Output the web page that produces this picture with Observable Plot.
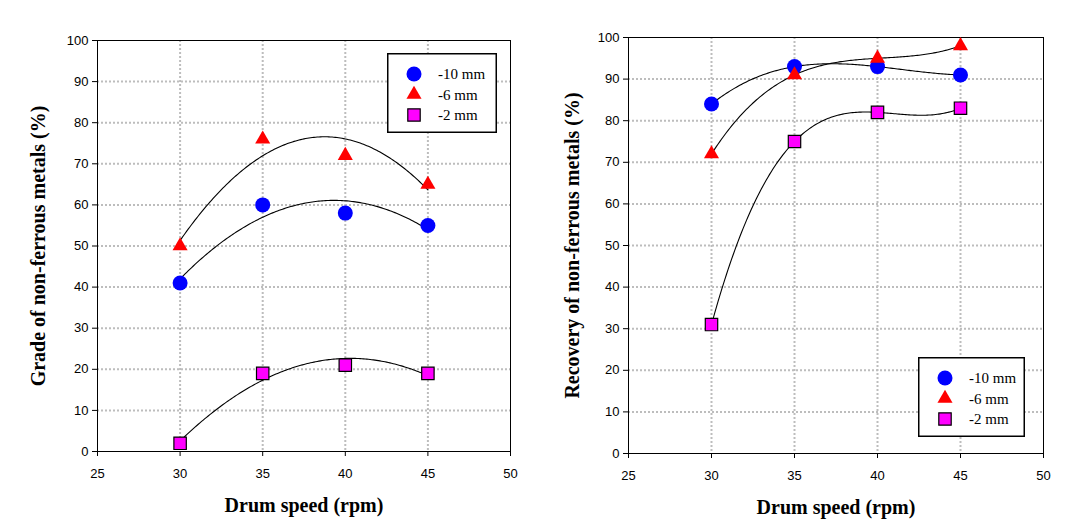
<!DOCTYPE html>
<html>
<head>
<meta charset="utf-8">
<script src="https://cdn.jsdelivr.net/npm/d3@7"></script>
<script src="https://cdn.jsdelivr.net/npm/@observablehq/plot@0.6"></script>
<style>
  html, body { margin: 0; padding: 0; background: white; }
  #wrap { position: relative; width: 1082px; height: 527px; display: flex; }
  .panel { position: relative; width: 541px; height: 527px; }
  .panel svg { display: block; }
  g[aria-label="x-axis label"], g[aria-label="y-axis label"],
  g[aria-label="x-axis label"] text, g[aria-label="y-axis label"] text {
    font-family: "Liberation Serif", "Times New Roman", serif !important;
    font-weight: bold !important;
    font-size: 20px !important;
  }
  .legend { position: absolute; }
</style>
</head>
<body>
<div id="wrap"></div>
<script>
// ---- data ----
const speeds = [30, 35, 40, 45];
const seriesNames = ["-10 mm", "-6 mm", "-2 mm"];
const seriesColors = ["#0000ff", "#ff0000", "#ff00ff"];
const seriesSymbols = ["circle", "triangle", "square"];
const gradeM10 = [41, 60, 58, 55];
const gradeM6 = [50, 76, 72, 65];
const gradeM2 = [2, 19, 21, 19];
const recoveryM10 = [84, 93, 93, 91];
const recoveryM6 = [72, 91, 95, 98];
const recoveryM2 = [31, 75, 82, 83];
const xTicks = [25, 30, 35, 40, 45, 50];
const xGrid = [30, 35, 40, 45];
const yTicks = [0, 10, 20, 30, 40, 50, 60, 70, 80, 90, 100];
const yGrid = [10, 20, 30, 40, 50, 60, 70, 80, 90];

// least-squares polynomial regression (fit drawn as in the source figure)
function polyfit(xs, ys, deg) {
  const mx = d3.mean(xs);
  const n = deg + 1;
  const A = Array.from({length: n}, () => new Array(n + 1).fill(0));
  xs.forEach((x, k) => {
    const u = x - mx;
    for (let i = 0; i < n; i++) {
      for (let j = 0; j < n; j++) A[i][j] += Math.pow(u, i + j);
      A[i][n] += Math.pow(u, i) * ys[k];
    }
  });
  for (let i = 0; i < n; i++) {
    let p = i;
    for (let r = i + 1; r < n; r++) if (Math.abs(A[r][i]) > Math.abs(A[p][i])) p = r;
    [A[i], A[p]] = [A[p], A[i]];
    for (let r = 0; r < n; r++) {
      if (r === i) continue;
      const f = A[r][i] / A[i][i];
      for (let c = i; c <= n; c++) A[r][c] -= f * A[i][c];
    }
  }
  const coef = A.map((row, i) => row[n] / row[i]);
  return x => coef.reduce((s, c, i) => s + c * Math.pow(x - mx, i), 0);
}

function fitCurve(ys, deg) {
  const f = polyfit(speeds, ys, deg);
  const lo = d3.min(speeds), hi = d3.max(speeds);
  const pts = [];
  for (let i = 0; i <= 150; i++) {
    const x = lo + (hi - lo) * i / 150;
    pts.push({x, y: f(x)});
  }
  return pts;
}

const dotSizes = {circle: 7.5, triangle: 5.6, square: 7.0};

function panel({values, degree, yLabel, margins, legendPos}) {
  const div = document.createElement("div");
  div.className = "panel";
  const marks = [
    Plot.gridX(xGrid, {stroke: "#bdbdbd", strokeOpacity: 1, strokeWidth: 2, strokeDasharray: "2,2"}),
    Plot.gridY(yGrid, {stroke: "#bdbdbd", strokeOpacity: 1, strokeWidth: 2, strokeDasharray: "2,2"}),
    Plot.frame({stroke: "black", strokeWidth: 1}),
    Plot.axisX(xTicks, {tickSize: 5, tickPadding: 12, fontSize: 13,
      label: "Drum speed (rpm)", labelAnchor: "center", labelArrow: "none", labelOffset: margins.xLabelOffset}),
    Plot.axisY(yTicks, {tickSize: 5, tickPadding: 4, fontSize: 13,
      label: yLabel, labelAnchor: "center", labelArrow: "none", labelOffset: margins.yLabelOffset})
  ];
  values.forEach(ys => {
    marks.push(Plot.line(fitCurve(ys, degree), {x: "x", y: "y", stroke: "black", strokeWidth: 1.1}));
  });
  values.forEach((ys, s) => {
    const data = speeds.map((x, i) => ({x, y: ys[i]}));
    marks.push(Plot.dot(data, {
      x: "x", y: "y",
      symbol: () => seriesSymbols[s],
      r: dotSizes[seriesSymbols[s]],
      fill: seriesColors[s],
      stroke: seriesSymbols[s] === "square" ? "black" : "none",
      strokeWidth: 1.2
    }));
  });
  const chart = Plot.plot({
    width: 541, height: 527,
    marginLeft: margins.left, marginRight: margins.right,
    marginTop: margins.top, marginBottom: margins.bottom,
    x: {domain: [25, 50]},
    y: {domain: [0, 100]},
    symbol: {type: "identity"},
    style: {fontFamily: "'Liberation Sans', Arial, sans-serif", fontSize: "13px", color: "#000", background: "white"},
    marks
  });
  div.appendChild(chart);

  // legend
  const [lx, ly, lw, lh] = legendPos;
  const svg = d3.create("svg")
    .attr("class", "legend")
    .attr("width", lw).attr("height", lh)
    .style("left", lx + "px").style("top", ly + "px");
  svg.append("rect").attr("x", 0.75).attr("y", 0.75).attr("width", lw - 1.5).attr("height", lh - 1.5)
    .attr("fill", "white").attr("stroke", "black").attr("stroke-width", 1.5);
  const symMap = {circle: d3.symbolCircle, triangle: d3.symbolTriangle, square: d3.symbolSquare};
  seriesNames.forEach((name, s) => {
    const cy = 21 + s * 20.5;
    const r = dotSizes[seriesSymbols[s]];
    svg.append("path")
      .attr("transform", `translate(27,${cy})`)
      .attr("d", d3.symbol(symMap[seriesSymbols[s]], r * r * Math.PI)())
      .attr("fill", seriesColors[s])
      .attr("stroke", seriesSymbols[s] === "square" ? "black" : "none")
      .attr("stroke-width", 1.2);
    svg.append("text")
      .attr("x", 51).attr("y", cy).attr("dy", "0.35em")
      .attr("font-family", "'Liberation Serif', 'Times New Roman', serif")
      .attr("font-size", 15)
      .text(name);
  });
  div.appendChild(svg.node());
  return div;
}

const wrap = document.getElementById("wrap");
wrap.appendChild(panel({
  values: [gradeM10, gradeM6, gradeM2],
  degree: 2,
  yLabel: "Grade of non-ferrous metals (%)",
  margins: {left: 97, right: 31, top: 40, bottom: 76, xLabelOffset: 60, yLabelOffset: 67},
  legendPos: [387, 53, 110, 80]
}));
wrap.appendChild(panel({
  values: [recoveryM10, recoveryM6, recoveryM2],
  degree: 3,
  yLabel: "Recovery of non-ferrous metals (%)",
  margins: {left: 87, right: 39, top: 37, bottom: 74, xLabelOffset: 60, yLabelOffset: 64},
  legendPos: [918 - 541, 357, 107, 80]
}));
</script>
</body>
</html>
